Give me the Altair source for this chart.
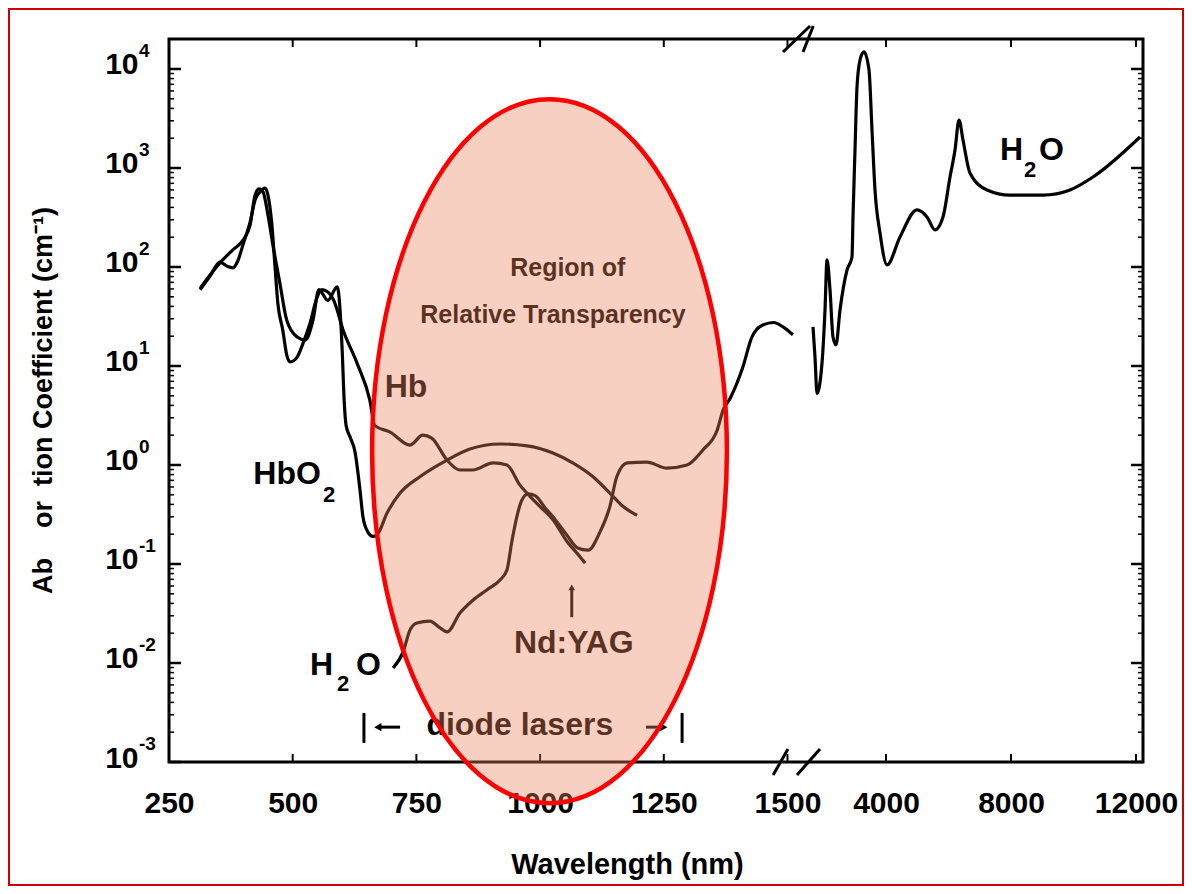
import altair as alt
import pandas as pd

# ---------------- data ----------------
hbo2_wl = [313, 333, 353, 379, 400, 414, 424, 432, 440, 450, 460, 474, 488, 509, 525, 541,
           553, 571, 590, 600, 604, 608, 616, 626, 636, 642, 652, 662, 670, 691, 717, 757,
           812, 858, 919, 974, 1026, 1066, 1107, 1141, 1168, 1196]
hbo2_abs = [61, 83, 110, 149, 188, 266, 533, 614, 573, 335, 167, 69, 29, 19.6, 18.3, 29,
            59, 46, 63, 14.5, 4.5, 2.5, 1.92, 1.35, 0.56, 0.30, 0.21, 0.19, 0.196, 0.33, 0.52, 0.76,
            1.12, 1.45, 1.63, 1.56, 1.32, 1.05, 0.76, 0.52, 0.38, 0.31]

hb_wl = [313, 333, 353, 367, 379, 389, 400, 414, 424, 434, 444, 450, 458, 464, 470, 480,
         488, 495, 509, 521, 535, 549, 559, 571, 583, 602, 630, 656, 666, 697, 737, 763,
         781, 812, 838, 864, 905, 933, 959, 980, 1000, 1026, 1054, 1081, 1091]
hb_abs = [59, 81, 112, 102, 98, 115, 171, 285, 475, 573, 628, 533, 266, 105, 43, 23,
          12.9, 11, 12.3, 17, 27, 49, 59, 56, 46, 23, 10.7, 4.5, 2.5, 2.15, 1.59, 2.0,
          1.87, 1.12, 0.89, 0.89, 1.05, 1.0, 0.63, 0.48, 0.38, 0.28, 0.17, 0.118, 0.102]

water_vis_wl = [703, 723, 737, 751, 777, 798, 812, 838, 864, 893, 919, 933, 943, 953, 963,
                976, 990, 1010, 1026, 1054, 1076, 1097, 1121, 1141, 1155, 1176, 1216, 1256,
                1297, 1329, 1358, 1370, 1384, 1410, 1428, 1450, 1472, 1491, 1511]
water_vis_abs = [0.0089, 0.0129, 0.0215, 0.0254, 0.0265, 0.0226, 0.0206, 0.032, 0.043, 0.055,
                 0.069, 0.087, 0.17, 0.30, 0.44, 0.51, 0.49, 0.37, 0.30, 0.196, 0.145, 0.138,
                 0.21, 0.38, 0.76, 1.05, 1.07, 0.93, 1.0, 1.42, 2.26, 3.6, 4.7, 9.8, 19.6,
                 26, 27.5, 24.8, 20.6]

water_ir_wl = [1664, 1728, 1792, 1952, 2048, 2112, 2208, 2304, 2400, 2528, 2752, 2912, 2944,
               3008, 3072, 3168, 3296, 3456, 3552, 3648, 3808, 4032, 4448, 4992, 5312, 5568,
               5824, 6048, 6208, 6336, 6464, 6688, 7232, 7968, 9024, 9888, 10624, 12128]
water_ir_abs = [24.8, 12.3, 5.3, 10.7, 36.8, 118, 59, 19.6, 16.3, 36.8, 93, 126, 320,
                1520, 6580, 12300, 14900, 9770, 2420, 600, 220, 105, 201, 377, 320, 237,
                320, 811, 1520, 3055, 1920, 889, 600, 533, 533, 600, 811, 2055]

x_ticks = [250, 500, 750, 1000, 1250, 1500, 4000, 8000, 12000]
y_decades = [0.001, 0.01, 0.1, 1, 10, 100, 1000, 10000]
y_exponents = ["-3", "-2", "-1", "0", "1", "2", "3", "4"]
y_minor = [m * d for d in y_decades for m in range(2, 10) if m * d <= 20000]

# ---------------- layout / style ----------------
FONT = "Liberation Sans"
W, H = 974, 723
x_scale = alt.Scale(domain=[250, 1515, 1600, 12224], range=[0, 625.9, 642, 974],
                    nice=False, zero=False)
y_scale = alt.Scale(type="log", domain=[0.001, 20090], nice=False)

one = pd.DataFrame({"k": [0]})

curves = pd.concat([
    pd.DataFrame({"wl": hbo2_wl, "abs": hbo2_abs, "series": "HbO2"}),
    pd.DataFrame({"wl": hb_wl, "abs": hb_abs, "series": "Hb"}),
    pd.DataFrame({"wl": water_vis_wl, "abs": water_vis_abs, "series": "H2O vis"}),
    pd.DataFrame({"wl": water_ir_wl, "abs": water_ir_abs, "series": "H2O ir"}),
], ignore_index=True)

NB = "\u00a0"
x_axis = alt.Axis(values=x_ticks, format="d", labelFont=FONT, labelFontSize=30,
                  labelFontWeight="bold", labelColor="black", labelPadding=26,
                  labelFlush=False, labelOverlap=False, ticks=False, domain=False, grid=False,
                  title="Wavelength (nm)", titleFont=FONT, titleFontSize=29,
                  titleFontWeight="bold", titleColor="black", titleX=458, titleY=111,
                  titleAlign="center", titleBaseline="alphabetic")
y_axis = alt.Axis(values=y_decades, labelExpr="'10'", labelFont=FONT, labelFontSize=30,
                  labelFontWeight="bold", labelColor="black", labelPadding=31, labelOffset=-4,
                  labelOverlap=False, ticks=False, domain=False, grid=False,
                  title="Ab" + NB * 4 + "or" + NB * 2 + "tion Coefficient (cm\u207b\u00b9)",
                  titleFont=FONT, titleFontSize=27, titleFontWeight="bold", titleColor="black",
                  titleX=-118, titleY=361, titleAngle=270, titleAlign="center",
                  titleBaseline="alphabetic")

frame = alt.Chart(one).mark_rect(fill="white", fillOpacity=0, stroke="#CC0000",
                                 strokeWidth=2).encode(
    x=alt.value(-160), x2=alt.value(W + 40), y=alt.value(-30), y2=alt.value(H + 123))

lines = alt.Chart(curves).mark_line(color="black", strokeWidth=3.2, interpolate="monotone").encode(
    x=alt.X("wl:Q", scale=x_scale, axis=x_axis),
    y=alt.Y("abs:Q", scale=y_scale, axis=y_axis),
    detail="series:N")

ymaj = pd.DataFrame({"abs": y_decades, "e": y_exponents})
ymin = pd.DataFrame({"abs": y_minor})
xt = pd.DataFrame({"wl": x_ticks})


def yticks(df, length, sw):
    a = alt.Chart(df).mark_rule(color="black", strokeWidth=sw).encode(
        y="abs:Q", x=alt.value(0), x2=alt.value(length))
    b = alt.Chart(df).mark_rule(color="black", strokeWidth=sw).encode(
        y="abs:Q", x=alt.value(W), x2=alt.value(W - length))
    return [a, b]


xtick_b = alt.Chart(xt).mark_rule(color="black", strokeWidth=2).encode(
    x="wl:Q", y=alt.value(H), y2=alt.value(H - 8))
xtick_t = alt.Chart(xt).mark_rule(color="black", strokeWidth=2).encode(
    x="wl:Q", y=alt.value(0), y2=alt.value(8))

exps = alt.Chart(ymaj).mark_text(align="left", baseline="middle", dy=-18, font=FONT,
                                 fontSize=19, fontWeight="bold", color="black").encode(
    x=alt.value(-30), y="abs:Q", text="e:N")


def txt(text, x, y, size=32, align="center", dx=0, dy=0):
    return alt.Chart(one).mark_text(text=text, font=FONT, fontSize=size, fontWeight="bold",
                                    align=align, baseline="middle", dx=dx, dy=dy,
                                    color="black").encode(x=alt.datum(x), y=alt.datum(y))


texts = [
    txt("Region of", 1056, 98, 25),
    txt("Relative Transparency", 1026, 32.7, 25),
    txt("Hb", 729, 6.1),
    txt("HbO", 557, 0.81, align="right"),
    txt("2", 557, 0.81, 22, align="left", dx=2, dy=21),
    txt("H", 585.5, 0.0095, align="right", dx=-2),
    txt("2", 585.5, 0.0095, 22, align="left", dx=2, dy=19),
    txt("O", 585.5, 0.0095, align="left", dx=21),
    txt("H", 8384, 1520, align="right"),
    txt("2", 8384, 1520, 22, align="left", dx=1, dy=20),
    txt("O", 8384, 1520, align="left", dx=16),
    txt("Nd:YAG", 1064, 0.0159, dx=2),
    txt("diode lasers", 959, 0.00237),
]

arrow = alt.Chart(one).mark_rule(color="black", strokeWidth=3).encode(
    x=alt.datum(1064), y=alt.datum(0.029), y2=alt.datum(0.055))
arrow_tip = alt.Chart(one).mark_point(shape="triangle-up", size=45, filled=True,
                                      color="black", opacity=1).encode(
    x=alt.datum(1064), y=alt.datum(0.058))
bar_l = alt.Chart(one).mark_rule(color="black", strokeWidth=3).encode(
    x=alt.datum(644), y=alt.datum(0.00156), y2=alt.datum(0.00313))
bar_r = alt.Chart(one).mark_rule(color="black", strokeWidth=3).encode(
    x=alt.datum(1287), y=alt.datum(0.00156), y2=alt.datum(0.00313))
# diode-laser range arrows
arr_l = alt.Chart(one).mark_rule(color="black", strokeWidth=3).encode(
    x=alt.datum(676), x2=alt.datum(717), y=alt.datum(0.00225))
arr_l_tip = alt.Chart(one).mark_point(shape="triangle-left", size=70, filled=True,
                                      color="black", opacity=1).encode(
    x=alt.datum(672), y=alt.datum(0.00225))
arr_r = alt.Chart(one).mark_rule(color="black", strokeWidth=3).encode(
    x=alt.datum(1214), x2=alt.datum(1244), y=alt.datum(0.00225))
arr_r_tip = alt.Chart(one).mark_point(shape="triangle-right", size=70, filled=True,
                                      color="black", opacity=1).encode(
    x=alt.datum(1250), y=alt.datum(0.00225))


# axis-break slashes
def slash(xa, xb, top):
    if top:
        ya, yb = alt.value(13), alt.value(-13)
    else:
        ya, yb = alt.value(H + 13), alt.value(H - 13)
    return alt.Chart(one).mark_rule(color="black", strokeWidth=3).encode(
        x=alt.datum(xa), x2=alt.datum(xb), y=ya, y2=yb)


breaks = [slash(1471, 1501, False), slash(1526, 1888, False),
          slash(1491, 1595, True), slash(1558, 1672, True)]

ELLIPSE = ("M0,-1 C0.2784,-1 0.504,-0.5523 0.504,0 C0.504,0.5523 0.2784,1 0,1 "
           "C-0.2784,1 -0.504,0.5523 -0.504,0 C-0.504,-0.5523 -0.2784,-1 0,-1 Z")
ellipse = alt.Chart(one).mark_point(shape=ELLIPSE, size=495616, filled=True,
                                    fill="#ED845C", fillOpacity=0.38, stroke="#FF0000",
                                    strokeWidth=4.5, strokeOpacity=1, opacity=1).encode(
    x=alt.datum(1019), y=alt.datum(1.38))

chart = alt.layer(
    frame, *yticks(ymaj, 12, 2.5), *yticks(ymin, 5, 1.5), xtick_b, xtick_t,
    lines, exps, *texts, arrow, arrow_tip, bar_l, bar_r, arr_l, arr_l_tip, arr_r, arr_r_tip,
    ellipse, *breaks
).properties(
    width=W, height=H,
    padding={"left": 161, "top": 31, "right": 41, "bottom": 124},
    autosize=alt.AutoSizeParams(type="none"),
    background="white",
).configure_view(stroke="black", strokeWidth=3)

chart.save("out.html", embed_options={"renderer": "svg", "actions": False})
